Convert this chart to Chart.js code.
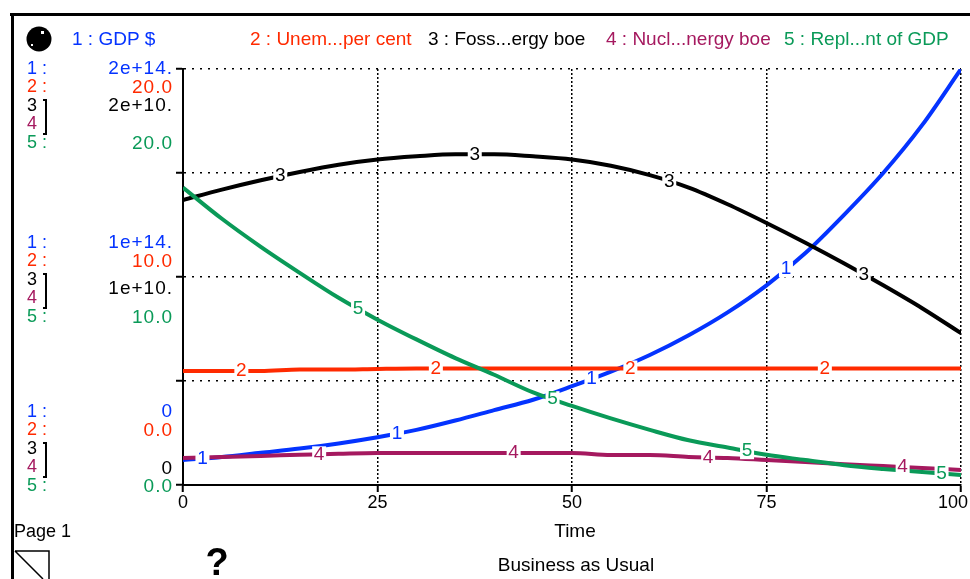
<!DOCTYPE html>
<html>
<head>
<meta charset="utf-8">
<style>
  html, body { margin: 0; padding: 0; background: #fff; overflow: hidden; }
  #wrap { width: 970px; height: 579px; position: relative; }
</style>
<script src="https://cdn.jsdelivr.net/npm/chart.js@4"></script>
</head>
<body>
<div id="wrap"><canvas id="myChart" width="970" height="579"></canvas></div>
<script>
const times = [0, 5, 10, 15, 20, 25, 30, 35, 40, 45, 50, 55, 60, 65, 70, 75, 80, 85, 90, 95, 100];
const gdp = [1.2e13, 1.35e13, 1.55e13, 1.75e13, 2.0e13, 2.3e13, 2.65e13, 3.1e13, 3.6e13, 4.1e13, 4.75e13, 5.45e13, 6.25e13, 7.2e13, 8.3e13, 9.6e13, 1.115e14, 1.3e14, 1.5e14, 1.73e14, 2e14];
const unemployment = [5.48, 5.48, 5.48, 5.55, 5.55, 5.58, 5.6, 5.6, 5.6, 5.6, 5.6, 5.6, 5.6, 5.6, 5.6, 5.6, 5.6, 5.6, 5.6, 5.6, 5.6];
const fossil = [1.37e10, 1.42e10, 1.465e10, 1.505e10, 1.54e10, 1.565e10, 1.58e10, 1.59e10, 1.59e10, 1.58e10, 1.565e10, 1.535e10, 1.49e10, 1.43e10, 1.35e10, 1.26e10, 1.165e10, 1.065e10, 9.6e9, 8.5e9, 7.3e9];
const nuclear = [1.3e9, 1.35e9, 1.4e9, 1.45e9, 1.5e9, 1.54e9, 1.54e9, 1.54e9, 1.54e9, 1.54e9, 1.54e9, 1.44e9, 1.44e9, 1.35e9, 1.3e9, 1.2e9, 1.1e9, 1.0e9, 0.91e9, 0.82e9, 0.72e9];
const replacement = [14.3, 12.8, 11.45, 10.2, 9.0, 7.95, 7.0, 6.1, 5.3, 4.45, 3.8, 3.2, 2.65, 2.15, 1.8, 1.45, 1.2, 0.95, 0.77, 0.62, 0.48];
const xTicks = [0, 25, 50, 75, 100];

const legendNames = ['1 : GDP $', '2 : Unem...per cent', '3 : Foss...ergy boe', '4 : Nucl...nergy boe', '5 : Repl...nt of GDP'];
const topLabels = ['2e+14.', '20.0', '2e+10.', '20.0'];
const midLabels = ['1e+14.', '10.0', '1e+10.', '10.0'];
const lowLabels = ['0', '0.0', '0', '0.0'];
const rowNames = ['1 :', '2 :', '3', '4', '5 :'];

const BLUE = '#0433ff', RED = '#ff2a00', BLACK = '#000000', MAROON = '#a5195f', GREEN = '#0a9a58';
const FONT = '"Liberation Sans", Arial, sans-serif';

// numbers sitting on the curves, at the same times the picture has them
const markerTimes = [
    [2.5, 27.5, 52.5, 77.5],
    [7.5, 32.5, 57.5, 82.5],
    [12.5, 37.5, 62.5, 87.5],
    [17.5, 42.5, 67.5, 92.5],
    [22.5, 47.5, 72.5, 97.5]
];

function makeSet(name, values, color, axis, order) {
    return {
        label: name,
        data: times.map((t, i) => ({ x: t, y: values[i] })),
        borderColor: color,
        backgroundColor: color,
        borderWidth: 4,
        pointRadius: 0,
        cubicInterpolationMode: 'monotone',
        yAxisID: axis,
        order: order
    };
}

function hiddenAxis(max) {
    return { type: 'linear', min: 0, max: max, display: false };
}

function valueAt(values, t) {
    for (let i = 0; i < times.length - 1; i++) {
        if (t >= times[i] && t <= times[i + 1]) {
            let k = (t - times[i]) / (times[i + 1] - times[i]);
            return values[i] + (values[i + 1] - values[i]) * k;
        }
    }
    return values[values.length - 1];
}

function text(ctx, str, x, y, color, align, font, spacing) {
    ctx.fillStyle = color;
    ctx.textAlign = align || 'left';
    ctx.textBaseline = 'middle';
    ctx.font = font || '19px ' + FONT;
    ctx.letterSpacing = spacing || '0px';
    ctx.fillText(str, x, y);
    ctx.letterSpacing = '0px';
}

const decorPlugin = {
    id: 'decor',
    afterDraw(chart) {
        const ctx = chart.ctx;
        ctx.save();

        // window frame
        ctx.fillStyle = '#000';
        ctx.fillRect(10, 13, 960, 3);
        ctx.fillRect(11, 13, 3, 566);

        // ball icon
        ctx.beginPath();
        ctx.arc(39, 39, 12.5, 0, Math.PI * 2);
        ctx.fill();
        ctx.fillStyle = '#fff';
        ctx.fillRect(41, 31, 3, 3);
        ctx.fillRect(31, 44, 2, 2);

        // legend row
        const colors = [BLUE, RED, BLACK, MAROON, GREEN];
        const legendX = [72, 250, 428, 606, 784];
        legendNames.forEach((n, i) => text(ctx, n, legendX[i], 40, colors[i]));

        // left hand scale blocks
        const blockTops = [69, 243, 412];
        const blockLabels = [topLabels, midLabels, lowLabels];
        const blackOffset = [37, 46, 57];
        blockTops.forEach((top, b) => {
            rowNames.forEach((n, r) => text(ctx, n, 27, top + r * 18.5, colors[r], 'left', '18px ' + FONT));
            ctx.fillStyle = '#000';
            ctx.fillRect(45, top + 30, 2, 36);
            ctx.fillRect(43, top + 30, 2, 2);
            ctx.fillRect(43, top + 64, 2, 2);
            const labs = blockLabels[b];
            const rx = 173;
            text(ctx, labs[0], rx, top, BLUE, 'right', null, '1px');
            text(ctx, labs[1], rx, top + 18.5, RED, 'right', null, '1px');
            text(ctx, labs[2], rx, top + blackOffset[b], BLACK, 'right', null, '1px');
            text(ctx, labs[3], rx, top + 74.5, GREEN, 'right', null, '1px');
        });

        // digits on the curves
        const series = [[gdp, 'yGdp'], [unemployment, 'yPct'], [fossil, 'yEnergy'], [nuclear, 'yEnergy'], [replacement, 'yPct']];
        series.forEach((s, i) => {
            markerTimes[i].forEach(t => {
                const px = chart.scales.x.getPixelForValue(t);
                const py = chart.scales[s[1]].getPixelForValue(valueAt(s[0], t));
                ctx.fillStyle = '#fff';
                ctx.fillRect(px - 7, py - 8, 14, 16);
                text(ctx, String(i + 1), px, py, colors[i], 'center');
            });
        });

        // time axis numbers, the last one is pulled in so it stays on the page
        xTicks.forEach((v, i) => {
            const px = chart.scales.x.getPixelForValue(v);
            if (i === xTicks.length - 1) {
                text(ctx, String(v), 968, 503, BLACK, 'right', '18px ' + FONT);
            } else {
                text(ctx, String(v), px, 503, BLACK, 'center', '18px ' + FONT);
            }
        });

        // bottom texts
        text(ctx, 'Page 1', 14, 532, BLACK, 'left', '18px ' + FONT);
        text(ctx, 'Time', 575, 532, BLACK, 'center');
        text(ctx, 'Business as Usual', 576, 566, BLACK, 'center');
        text(ctx, '?', 217, 565, BLACK, 'center', 'bold 38px ' + FONT);

        // page turner
        ctx.strokeStyle = '#000';
        ctx.lineWidth = 1.5;
        ctx.beginPath();
        ctx.moveTo(15, 551);
        ctx.lineTo(49, 551);
        ctx.lineTo(49, 579);
        ctx.moveTo(15, 551);
        ctx.lineTo(43, 579);
        ctx.stroke();

        ctx.restore();
    }
};

let diagramma = document.getElementById('myChart').getContext('2d');
let myChart = new Chart(diagramma, {
    type: 'line',
    data: {
        datasets: [
            makeSet('GDP $', gdp, BLUE, 'yGdp', 5),
            makeSet('Unemployment per cent', unemployment, RED, 'yPct', 4),
            makeSet('Fossil energy boe', fossil, BLACK, 'yEnergy', 3),
            makeSet('Nuclear energy boe', nuclear, MAROON, 'yEnergy', 2),
            makeSet('Replacement of GDP', replacement, GREEN, 'yPct', 1)
        ]
    },
    options: {
        responsive: false,
        animation: false,
        layout: { padding: { left: 183, right: 9, top: 69, bottom: 54 } },
        plugins: {
            legend: false,
            tooltip: { enabled: false }
        },
        scales: {
            x: {
                type: 'linear',
                min: 0,
                max: 100,
                afterBuildTicks: (axis) => { axis.ticks = xTicks.map(v => ({ value: v })); },
                afterFit: (axis) => { axis.height = 40; },
                grid: { color: '#000', lineWidth: 1.5, tickLength: 7, tickColor: '#000', tickWidth: 2 },
                border: { display: true, color: '#000', width: 2, dash: [2, 2] },
                ticks: { display: false }
            },
            y: {
                type: 'linear',
                position: 'left',
                min: 0,
                max: 4,
                afterFit: (axis) => { axis.width = 0; },
                grid: { color: '#000', lineWidth: 1.5, tickLength: 7, tickColor: '#000', tickWidth: 2 },
                border: { display: true, color: '#000', width: 2, dash: [2, 6] },
                ticks: { display: false, stepSize: 1 }
            },
            yGdp: hiddenAxis(2e14),
            yPct: hiddenAxis(20),
            yEnergy: hiddenAxis(2e10)
        }
    },
    plugins: [decorPlugin]
});
</script>
</body>
</html>
